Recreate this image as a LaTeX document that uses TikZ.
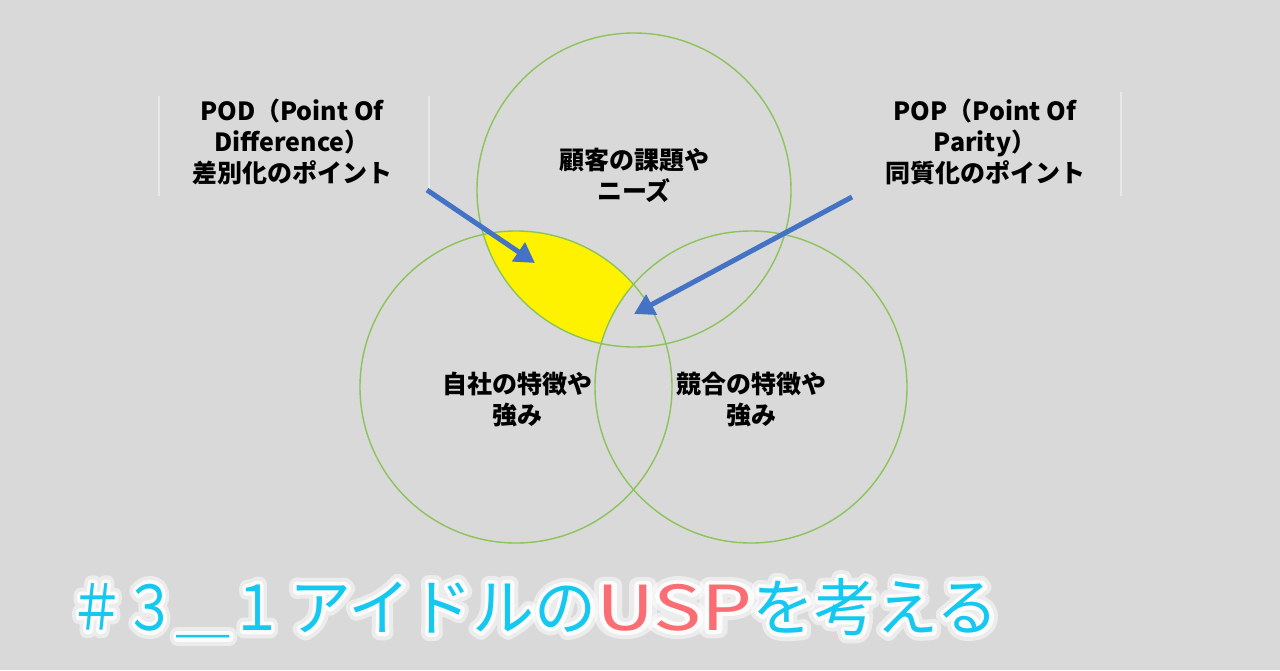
\documentclass[tikz,border=0pt]{standalone}
\usepackage{fontspec}
\setmainfont{Noto Sans CJK JP}
\usetikzlibrary{arrows.meta}
\definecolor{bg}{RGB}{217,217,217}
\definecolor{ringgreen}{RGB}{140,195,90}
\definecolor{arrowblue}{RGB}{68,114,196}
\definecolor{titlecyan}{RGB}{20,200,240}
\definecolor{uspred}{RGB}{250,110,115}
\newcommand\usptitle[2]{\textcolor{#1}{\scalebox{0.86}[1]{＃３＿１}\hspace{6pt}アイドルの}\textcolor{#2}{\scalebox{1.3}[1]{USP}}\textcolor{#1}{を考える}}
\newcommand\glowtext[1]{\special{pdf:literal direct 1 Tr #1 w 1 j 1 J}\usptitle{white}{white}\special{pdf:literal direct 0 Tr 1 w}}
\tikzset{
  ring/.style={draw=ringgreen, line width=1.4pt},
  pointer/.style={draw=arrowblue, line width=5pt, -{Triangle[length=20pt,width=22pt]}},
  label/.style={align=center, inner sep=0pt, font=\fontsize{25}{31}\selectfont\bfseries},
  edge/.style={draw=white!40!bg, line width=1.5pt},
  headline/.style={anchor=west, inner sep=0pt, font=\fontsize{62}{62}\selectfont}
}
\begin{document}
\begin{tikzpicture}[x=1pt,y=-1pt]
\fill[bg] (0,0) rectangle (1280,670);
\useasboundingbox (0,0) rectangle (1280,670);
% circle centres
\coordinate (ctop) at (634,190);
\coordinate (cleft) at (516,387);
\coordinate (cright) at (751,387);
% yellow part
\begin{scope}
  \clip (ctop) circle[radius=157pt];
  \fill[yellow] (cleft) circle[radius=156pt];
  \clip (cleft) circle[radius=156pt];
  \fill[bg] (cright) circle[radius=156pt];
\end{scope}
\draw[ring] (ctop) circle[radius=157pt];
\draw[ring] (cleft) circle[radius=156pt];
\draw[ring] (cright) circle[radius=156pt];
% faint box edges
\draw[edge] (159,96) -- (159,196);
\draw[edge] (429,96) -- (429,190);
\draw[edge] (1121,92) -- (1121,196);
% texts
\node[label] (needs) at (634,175) {顧客の課題や\\ニーズ};
\node[label] (own) at (517,400) {自社の特徴や\\強み};
\node[label] (rival) at (751,400) {競合の特徴や\\強み};
\node[label] (pod) at (292,142) {POD（Point Of\\Difference）\\差別化のポイント};
\node[label] (pop) at (985,142) {POP（Point Of\\Parity）\\同質化のポイント};
% arrows
\coordinate (podtail) at (427,190);
\coordinate (podtip) at (535,263);
\coordinate (poptail) at (852,197);
\coordinate (poptip) at (634,314);
\draw[pointer] (podtail) -- (podtip);
\draw[pointer] (poptail) -- (poptip);
% title with glow
\node[headline, opacity=0.5] at (70,608) {\glowtext{16}};
\node[headline, opacity=0.8] at (70,608) {\glowtext{8}};
\node[headline] (title) at (70,608) {\usptitle{titlecyan}{uspred}};
\end{tikzpicture}
\end{document}
